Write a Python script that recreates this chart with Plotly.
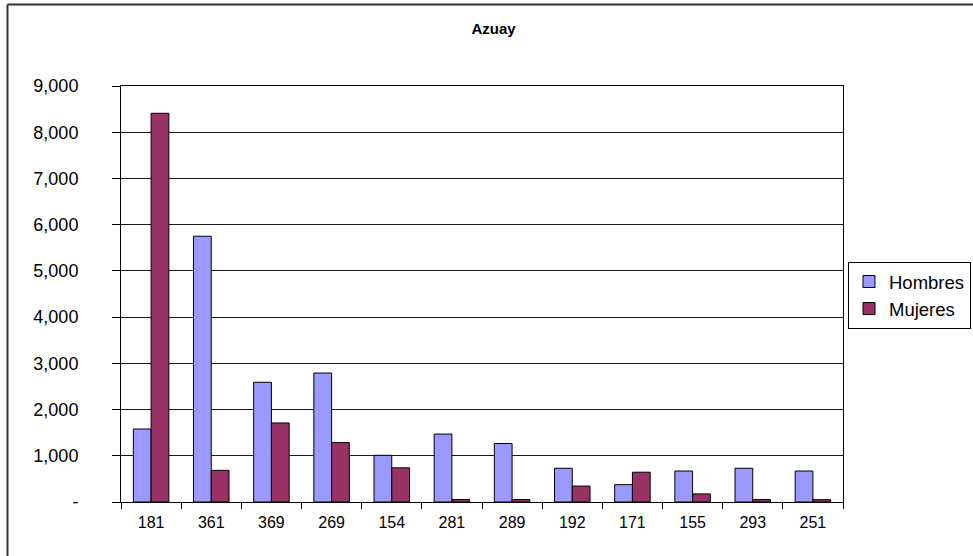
import plotly.graph_objects as go

categories = ["181", "361", "369", "269", "154", "281", "289", "192", "171", "155", "293", "251"]
hombres = [1580, 5750, 2590, 2790, 1010, 1470, 1265, 730, 375, 670, 730, 670]
mujeres = [8410, 685, 1710, 1285, 740, 52, 52, 345, 645, 175, 52, 50]
y_ticks = [0, 1000, 2000, 3000, 4000, 5000, 6000, 7000, 8000, 9000]
y_ticktext = ["-", "1,000", "2,000", "3,000", "4,000", "5,000", "6,000", "7,000", "8,000", "9,000"]

W, H = 973, 556
L, R, T, B = 121, 130, 86, 54
pw, ph = W - L - R, H - T - B

fig = go.Figure()
fig.add_trace(go.Bar(name="Hombres", x=categories, y=hombres,
                     marker=dict(color="#9999FF", line=dict(color="#000000", width=1))))
fig.add_trace(go.Bar(name="Mujeres", x=categories, y=mujeres,
                     marker=dict(color="#993366", line=dict(color="#000000", width=1))))

font_family = "Liberation Sans, Arial, sans-serif"

# outer chart frame (left and top edges visible)
x_left = (7.5 - L) / pw
y_top = (H - B - 4.5) / ph
fig.add_shape(type="line", xref="paper", yref="paper", x0=x_left, x1=x_left, y0=y_top, y1=-0.2,
              line=dict(color="#333333", width=2))
fig.add_shape(type="line", xref="paper", yref="paper", x0=x_left, x1=1.25, y0=y_top, y1=y_top,
              line=dict(color="#333333", width=2))

fig.update_layout(
    width=W, height=H,
    margin=dict(l=L, r=R, t=T, b=B, autoexpand=False),
    paper_bgcolor="white", plot_bgcolor="white",
    barmode="group", bargap=0.41, bargroupgap=0,
    font=dict(family=font_family, color="#000000"),
    title=dict(text="<b>Azuay</b>", x=493.5 / W, xref="container", xanchor="center",
               y=1 - 29 / H, yref="container", yanchor="middle",
               font=dict(size=15, family=font_family, color="#000000")),
    legend=dict(x=(971 - L) / pw, xanchor="right", y=(H - B - 262) / ph, yanchor="top",
                bordercolor="#000000", borderwidth=1, bgcolor="white",
                font=dict(size=18.5, family=font_family, color="#000000"),
                tracegroupgap=0),
    xaxis=dict(type="category", showline=True, mirror=True, linecolor="#000000", linewidth=1,
               ticks="outside", ticklen=6, tickcolor="#000000", tickson="boundaries",
               showgrid=False, ticklabelstandoff=6,
               tickfont=dict(size=16, family=font_family, color="#000000")),
    yaxis=dict(range=[0, 9000], tickvals=y_ticks, ticktext=y_ticktext,
               showline=True, mirror=True, linecolor="#000000", linewidth=1,
               ticks="outside", ticklen=8, tickcolor="#000000",
               showgrid=True, gridcolor="#1a1a1a", gridwidth=1, zeroline=False,
               ticklabelstandoff=30,
               tickfont=dict(size=18, family=font_family, color="#000000")),
)

fig.write_html("out.html", config={"displayModeBar": False},
               post_script="document.body.style.margin='0';")
